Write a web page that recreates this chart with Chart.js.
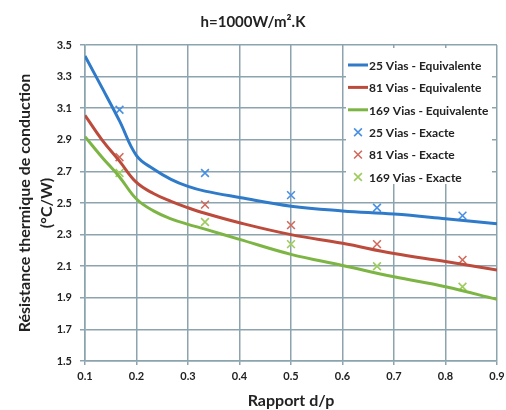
<!DOCTYPE html>
<html>
<head>
<meta charset="utf-8">
<script src="https://cdn.jsdelivr.net/npm/chart.js@4.4.0/dist/chart.umd.min.js"></script>
<style>
html, body { margin: 0; padding: 0; background: #fff; }
#wrap { width: 506px; height: 410px; position: relative; }
</style>
</head>
<body>
<div id="wrap"><canvas id="chart"></canvas></div>
<script>
// model curves (equivalent) and exact points
const xEquiv = [0.1, 0.133, 0.167, 0.2, 0.233, 0.267, 0.3, 0.333, 0.4, 0.5, 0.6, 0.7, 0.8, 0.9];
const equiv25 = [3.43, 3.23, 3.02, 2.80, 2.715, 2.65, 2.605, 2.575, 2.535, 2.48, 2.45, 2.43, 2.40, 2.368];
const equiv81 = [3.055, 2.90, 2.765, 2.63, 2.56, 2.51, 2.47, 2.435, 2.375, 2.30, 2.245, 2.18, 2.13, 2.076];
const equiv169 = [2.92, 2.79, 2.665, 2.525, 2.45, 2.40, 2.365, 2.335, 2.27, 2.175, 2.105, 2.033, 1.97, 1.89];

const xExact = [0.167, 0.333, 0.5, 0.667, 0.833];
const exact25 = [3.09, 2.69, 2.55, 2.47, 2.42];
const exact81 = [2.79, 2.49, 2.36, 2.24, 2.14];
const exact169 = [2.69, 2.38, 2.24, 2.10, 1.97];

const labels = ['25 Vias - Equivalente', '81 Vias - Equivalente', '169 Vias - Equivalente',
                '25 Vias - Exacte', '81 Vias - Exacte', '169 Vias - Exacte'];

const gridColor = '#8ca4ae';
const textColor = '#222';
const fontFam = 'Lato, "Open Sans", sans-serif';

function pts(xs, ys) {
    return xs.map((x, i) => ({ x: x, y: ys[i] }));
}

function lineSet(label, ys, color) {
    return {
        label: label,
        data: pts(xEquiv, ys),
        borderColor: color,
        backgroundColor: color,
        borderWidth: 3,
        pointRadius: 0,
        tension: 0.4
    };
}

function markSet(label, ys, color) {
    return {
        label: label,
        data: pts(xExact, ys),
        showLine: false,
        borderColor: color,
        backgroundColor: color,
        pointStyle: 'crossRot',
        pointRadius: 5.5,
        pointBorderWidth: 1.6
    };
}

// legend drawn inside the plot, on a white box
const legendBox = {
    id: 'legendBox',
    afterDraw(chart) {
        const ctx = chart.ctx;
        const area = chart.chartArea;
        const bx = area.right - 151, by = area.top + 3;
        ctx.save();
        ctx.fillStyle = '#fff';
        ctx.fillRect(bx, by, 146, 136);
        ctx.font = 'bold 12px ' + fontFam;
        ctx.textBaseline = 'middle';
        chart.data.datasets.forEach((ds, i) => {
            const y = area.top + 20 + i * 22.4;
            const x0 = bx + 2;
            ctx.strokeStyle = ds.borderColor;
            if (ds.showLine === false) {
                ctx.lineWidth = 1.6;
                Chart.helpers.drawPoint(ctx, { pointStyle: 'crossRot', radius: 5.5, borderWidth: 1.6 }, x0 + 10, y);
            } else {
                ctx.lineWidth = 3;
                ctx.beginPath();
                ctx.moveTo(x0, y);
                ctx.lineTo(x0 + 20, y);
                ctx.stroke();
            }
            ctx.fillStyle = textColor;
            ctx.fillText(ds.label, x0 + 21, y + 1);
        });
        ctx.restore();
    }
};

new Chart(document.getElementById('chart'), {
    type: 'line',
    data: {
        datasets: [
            lineSet(labels[0], equiv25, '#2f7bc9'),
            lineSet(labels[1], equiv81, '#bc4b3c'),
            lineSet(labels[2], equiv169, '#7db544'),
            markSet(labels[3], exact25, '#4a90e2'),
            markSet(labels[4], exact81, '#d06a5c'),
            markSet(labels[5], exact169, '#9ccc5c')
        ]
    },
    options: {
        responsive: true,
        maintainAspectRatio: false,
        animation: false,
        layout: { padding: 0 },
        plugins: {
            legend: { display: false },
            tooltip: { enabled: false },
            title: {
                display: true,
                text: 'h=1000W/m\u00b2.K',
                color: textColor,
                font: { family: fontFam, size: 15, weight: 'bold' },
                padding: { top: 13, bottom: 14 }
            }
        },
        scales: {
            x: {
                type: 'linear',
                min: 0.1,
                max: 0.9,
                ticks: {
                    stepSize: 0.1,
                    color: textColor,
                    padding: 5,
                    font: { family: fontFam, size: 11, weight: 'bold' },
                    callback: v => v.toFixed(1)
                },
                grid: { color: gridColor, lineWidth: 1.5, tickLength: 4 },
                border: { color: gridColor, width: 1.5 },
                title: {
                    display: true,
                    text: 'Rapport d/p',
                    color: textColor,
                    font: { family: fontFam, size: 16, weight: 'bold' },
                    padding: { top: 2, bottom: 0 }
                },
                afterFit: s => { s.height = 49; s.paddingRight = 9; }
            },
            y: {
                min: 1.5,
                max: 3.5,
                ticks: {
                    stepSize: 0.2,
                    color: textColor,
                    padding: 8,
                    font: { family: fontFam, size: 11, weight: 'bold' },
                    callback: v => v.toFixed(1)
                },
                grid: { color: gridColor, lineWidth: 1.5, tickLength: 5 },
                border: { color: gridColor, width: 1.5 },
                title: {
                    display: true,
                    text: ['R\u00e9sistance thermique de conduction', '(\u00b0C/W)'],
                    color: textColor,
                    font: { family: fontFam, size: 16, weight: 'bold', lineHeight: 1.375 },
                    padding: { top: 14, bottom: 0 }
                },
                afterFit: s => { s.width = 85; }
            }
        }
    },
    plugins: [legendBox]
});
</script>
</body>
</html>
